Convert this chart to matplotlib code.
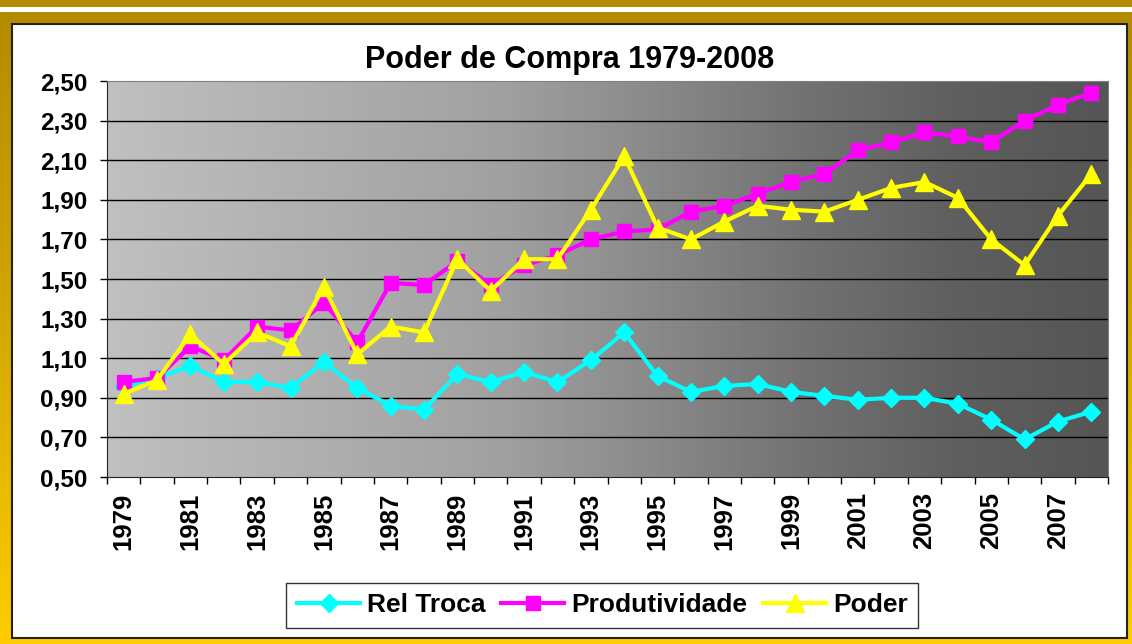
import numpy as np
import matplotlib
matplotlib.use("Agg")
import matplotlib.pyplot as plt
from matplotlib.colors import LinearSegmentedColormap
from matplotlib.patches import Rectangle

plt.rcParams['font.family'] = ['Liberation Sans', 'DejaVu Sans']
plt.rcParams['font.weight'] = 'bold'

# dados
anos = list(range(1979, 2009))
rel_troca = [0.96, 1.00, 1.06, 0.98, 0.98, 0.95, 1.08, 0.95, 0.86, 0.84,
             1.02, 0.98, 1.03, 0.98, 1.09, 1.23, 1.01, 0.93, 0.96, 0.97,
             0.93, 0.91, 0.89, 0.90, 0.90, 0.87, 0.79, 0.69, 0.78, 0.83]
produtividade = [0.98, 1.00, 1.16, 1.09, 1.26, 1.24, 1.38, 1.18, 1.48, 1.47,
                 1.59, 1.47, 1.57, 1.62, 1.70, 1.74, 1.75, 1.84, 1.87, 1.93,
                 1.99, 2.03, 2.15, 2.19, 2.24, 2.22, 2.19, 2.30, 2.38, 2.44]
poder = [0.92, 0.99, 1.22, 1.07, 1.23, 1.16, 1.46, 1.12, 1.26, 1.23,
         1.60, 1.44, 1.60, 1.60, 1.85, 2.12, 1.76, 1.70, 1.79, 1.87,
         1.85, 1.84, 1.90, 1.96, 1.99, 1.91, 1.70, 1.57, 1.82, 2.03]
y_ticks = [0.5, 0.7, 0.9, 1.1, 1.3, 1.5, 1.7, 1.9, 2.1, 2.3, 2.5]

W, H = 1132, 644
fig = plt.figure(figsize=(W / 100, H / 100), dpi=100)

# moldura dourada
bg = fig.add_axes([0, 0, 1, 1], zorder=0)
bg.set_xlim(0, W)
bg.set_ylim(H, 0)
bg.axis('off')
gold = LinearSegmentedColormap.from_list('gold', ['#b38a00', '#d4a800', '#ffcc00'])
bg.imshow(np.linspace(0, 1, 256).reshape(-1, 1), cmap=gold, extent=[0, W, H, 0], aspect='auto')
bg.add_patch(Rectangle((0, 7), W, 4.5, color='white', lw=0))
bg.add_patch(Rectangle((12, 24), 1115, 614, facecolor='white', edgecolor='#222222', lw=1.5))

ax = fig.add_axes([107 / W, 1 - 477 / H, (1108 - 107) / W, (477 - 81) / H], zorder=1)
x = np.arange(len(anos))

cinza = LinearSegmentedColormap.from_list(
    'cinza', [(0, '#c0c0c0'), (0.4, '#a0a0a0'), (0.7, '#727272'), (0.85, '#5f5f5f'), (1, '#555555')])
ax.imshow(np.linspace(0, 1, 256).reshape(1, -1), cmap=cinza, extent=[-0.5, 29.5, 0.5, 2.5],
          aspect='auto', zorder=0)

for v in y_ticks[1:-1]:
    ax.axhline(v, color='black', lw=1, zorder=1)

ax.plot(x, rel_troca, color='#00ffff', lw=3, marker='D', ms=9, label='Rel Troca', zorder=3)
ax.plot(x, produtividade, color='#ff00ff', lw=3, marker='s', ms=10, label='Produtividade', zorder=4)
ax.plot(x, poder, color='#ffff00', lw=3, marker='^', ms=13, label='Poder', zorder=5)

ax.set_xlim(-0.5, 29.5)
ax.set_ylim(0.5, 2.5)
ax.set_yticks(y_ticks)
ax.set_yticklabels([f"{v:.2f}".replace('.', ',') for v in y_ticks], fontsize=17.5, fontweight='bold')
ax.tick_params(axis='y', length=5, width=1, pad=9)

ax.set_xticks(x[::2])
ax.set_xticklabels([str(a) for a in anos[::2]], rotation=90, fontsize=18.5, fontweight='bold')
ax.set_xticks(np.arange(-0.5, 30, 1), minor=True)
ax.tick_params(axis='x', which='major', length=0, pad=11)
ax.tick_params(axis='x', which='minor', length=5, width=1)

for s in ['left', 'bottom']:
    ax.spines[s].set_color('#222222')
for s in ['top', 'right']:
    ax.spines[s].set_color('#808080')

fig.text(0.503, 1 - 60 / H, 'Poder de Compra 1979-2008', ha='center', va='center',
         fontsize=22, fontweight='bold')

leg = fig.legend(loc='center', bbox_to_anchor=(0.532, 0.06), ncol=3, frameon=True, fancybox=False,
                 edgecolor='black', prop={'size': 19, 'weight': 'bold'}, handlelength=2.4,
                 handletextpad=0.25, columnspacing=0.6, borderpad=0.4)
leg.get_frame().set_linewidth(1)

fig.savefig('out.png', dpi=100)
